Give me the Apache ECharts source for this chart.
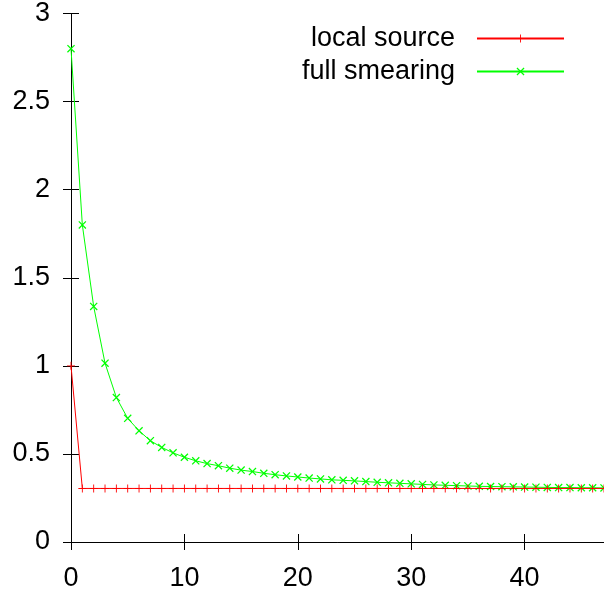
<!DOCTYPE html>
<html>
<head>
<meta charset="utf-8">
<script src="https://cdn.jsdelivr.net/npm/echarts@6/dist/echarts.min.js"></script>
<style>
html,body{margin:0;padding:0;background:#fff;}
#chart{width:604px;height:592px;}
</style>
</head>
<body>
<div id="chart"></div>
<script>
var xValues = [0,1,2,3,4,5,6,7,8,9,10,11,12,13,14,15,16,17,18,19,20,21,22,23,24,25,26,27,28,29,30,31,32,33,34,35,36,37,38,39,40,41,42,43,44,45,46,47];
var localSource = [1.0,0.304,0.304,0.304,0.304,0.304,0.304,0.304,0.304,0.304,0.304,0.304,0.304,0.304,0.304,0.304,0.304,0.304,0.304,0.304,0.304,0.304,0.304,0.304,0.304,0.304,0.304,0.304,0.304,0.304,0.304,0.304,0.304,0.304,0.304,0.304,0.304,0.304,0.304,0.304,0.304,0.304,0.304,0.304,0.304,0.304,0.304,0.304];
var fullSmearing = [2.80,1.80,1.337,1.015,0.820,0.702,0.631,0.575,0.537,0.506,0.481,0.461,0.445,0.433,0.419,0.408,0.400,0.390,0.382,0.375,0.369,0.363,0.358,0.353,0.350,0.347,0.343,0.339,0.336,0.333,0.330,0.327,0.324,0.322,0.320,0.318,0.316,0.315,0.314,0.313,0.312,0.311,0.310,0.309,0.309,0.308,0.308,0.307];
var seriesNames = ['local source', 'full smearing'];
var xTicks = [0, 10, 20, 30, 40];

function pairs(xs, ys){ return xs.map(function(x,i){ return [x, ys[i]]; }); }

var FONT = 'Liberation Sans, Arial, Helvetica, sans-serif';
var plusPath = 'path://M4,0 L5,0 L5,4 L9,4 L9,5 L5,5 L5,9 L4,9 L4,5 L0,5 L0,4 L4,4 Z';
var crossPath = 'path://M0,1 L1,0 L9,8 L8,9 Z M8,0 L9,1 L1,9 L0,8 Z';

var axisLineStyle = { show: true, lineStyle: { color: '#000', width: 1 } };
function tickStyle(){ return { show: true, inside: true, length: 8, customValues: xTicks, lineStyle: { color: '#000', width: 1 } }; }
var yTickStyle = { show: true, inside: true, length: 8, lineStyle: { color: '#000', width: 1 } };

var chart = echarts.init(document.getElementById('chart'), null, { renderer: 'canvas' });
chart.setOption({
  animation: false,
  backgroundColor: '#fff',
  grid: { left: 71, right: -3, top: 11, bottom: 47, containLabel: false },
  legend: [
    { data: [seriesNames[0]], right: 39, top: 25, orient: 'horizontal', align: 'right', padding: 0,
      itemWidth: 87, itemHeight: 10,
      textStyle: { fontFamily: FONT, fontSize: 27, color: '#000', padding: [0, 17, 0, 0] } },
    { data: [seriesNames[1]], right: 39, top: 58, orient: 'horizontal', align: 'right', padding: 0,
      itemWidth: 87, itemHeight: 10,
      textStyle: { fontFamily: FONT, fontSize: 27, color: '#000', padding: [0, 17, 0, 0] } }
  ],
  xAxis: [
    { type: 'value', min: 0, max: 47, interval: 10, position: 'bottom',
      axisLine: axisLineStyle, axisTick: tickStyle(), splitLine: { show: false },
      axisLabel: { margin: 23, fontFamily: FONT, fontSize: 27, color: '#000', customValues: xTicks } },
    { type: 'value', min: 0, max: 47, interval: 10, position: 'top',
      axisLine: axisLineStyle, axisTick: tickStyle(), splitLine: { show: false },
      axisLabel: { show: false } }
  ],
  yAxis: [
    { type: 'value', min: 0, max: 3, interval: 0.5, position: 'left',
      axisLine: axisLineStyle, axisTick: yTickStyle, splitLine: { show: false },
      axisLabel: { margin: 21, fontFamily: FONT, fontSize: 27, color: '#000' } },
    { type: 'value', min: 0, max: 3, interval: 0.5, position: 'right',
      axisLine: axisLineStyle, axisTick: yTickStyle, splitLine: { show: false },
      axisLabel: { show: false } }
  ],
  series: [
    { name: seriesNames[0], type: 'line', data: pairs(xValues, localSource),
      symbol: plusPath, symbolSize: 8, showAllSymbol: true,
      lineStyle: { color: '#ff0000', width: 1 }, itemStyle: { color: '#ff0000' }, z: 3 },
    { name: seriesNames[1], type: 'line', data: pairs(xValues, fullSmearing),
      symbol: crossPath, symbolSize: 8, showAllSymbol: true,
      lineStyle: { color: '#00ff00', width: 1 }, itemStyle: { color: '#00ff00' }, z: 2 }
  ]
});
</script>
</body>
</html>
